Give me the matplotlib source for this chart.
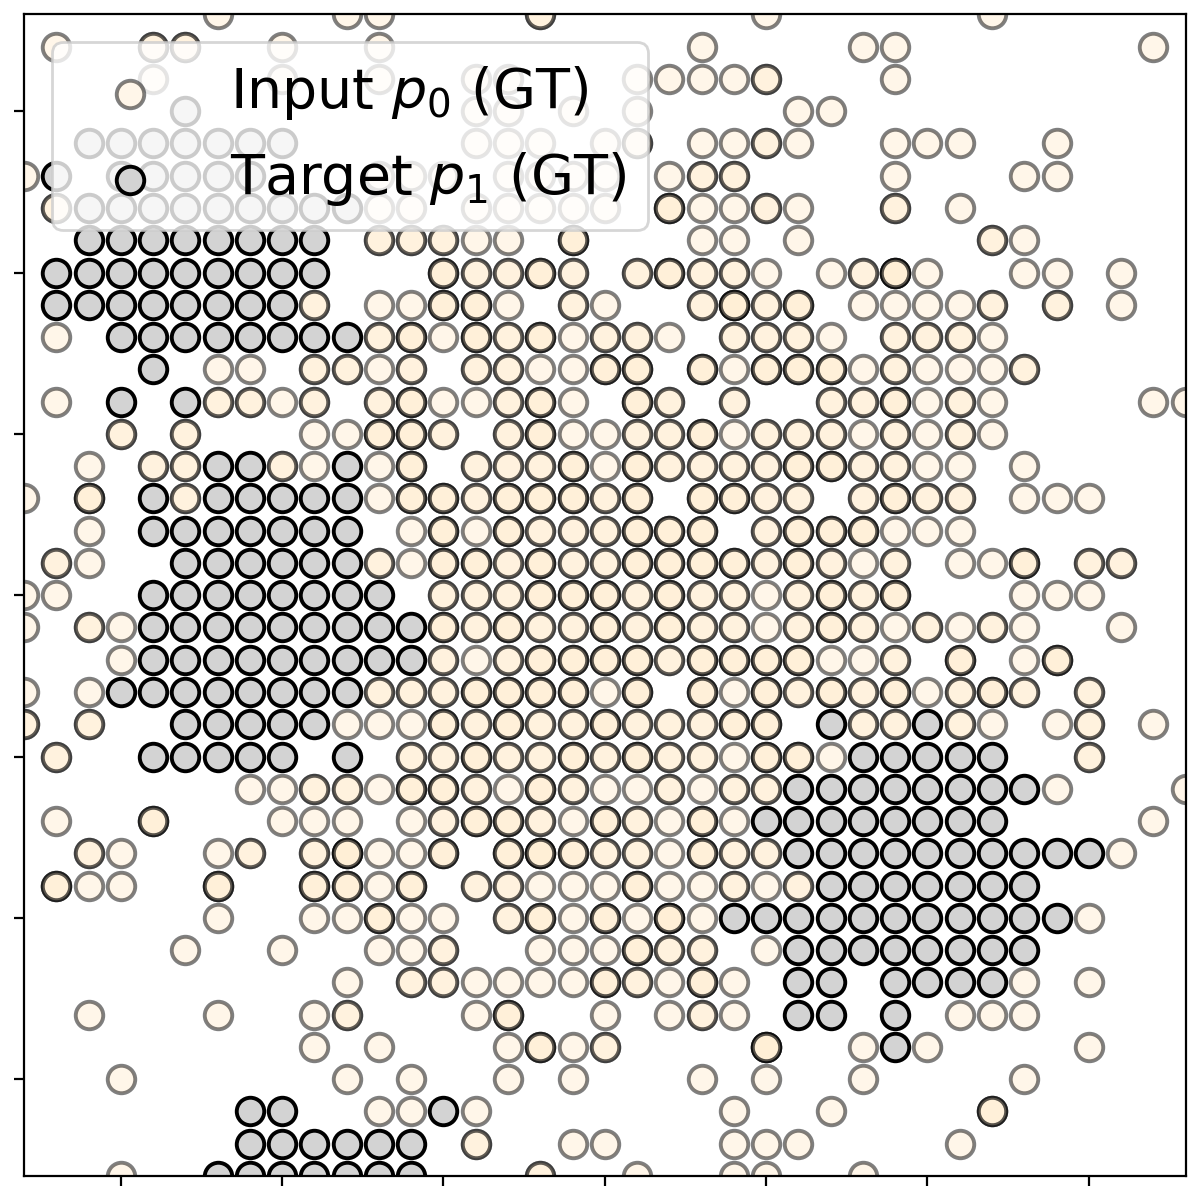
import matplotlib
matplotlib.use("Agg")
import matplotlib.pyplot as plt

GRID_MAX = 36
TICKS = [3, 8, 13, 18, 23, 28, 33]
LABEL_P0 = "Input $p_0$ (GT)"
LABEL_P1 = "Target $p_1$ (GT)"

# one entry per grid row, top row first: {column: how many p0 points sit there}
P0_COUNTS = [
    {6: 1, 10: 1, 11: 1, 16: 2, 23: 1, 30: 1},
    {1: 1, 4: 2, 5: 2, 8: 1, 11: 1, 21: 1, 26: 1, 27: 1, 35: 1},
    {4: 1, 8: 1, 11: 1, 14: 1, 15: 1, 19: 1, 20: 1, 21: 1, 22: 1, 23: 2, 27: 1},
    {14: 1, 15: 1, 17: 1, 19: 1, 24: 1, 25: 1},
    {14: 1, 15: 1, 16: 1, 18: 1, 19: 2, 21: 1, 22: 1, 23: 2, 24: 1, 27: 1, 28: 1, 29: 1, 32: 1},
    {0: 1, 11: 1, 12: 1, 13: 1, 15: 1, 16: 1, 17: 1, 18: 1, 20: 1, 21: 2, 22: 2, 27: 1, 31: 1, 32: 1},
    {1: 2, 11: 1, 12: 1, 14: 1, 15: 1, 16: 1, 17: 1, 18: 1, 20: 3, 21: 1, 22: 1, 23: 2, 24: 1, 27: 2, 29: 1},
    {11: 2, 12: 2, 13: 2, 14: 1, 15: 1, 17: 3, 21: 1, 22: 1, 24: 1, 30: 2, 31: 1},
    {13: 3, 14: 2, 15: 2, 16: 3, 17: 2, 19: 2, 20: 3, 21: 2, 22: 2, 23: 1, 25: 1, 26: 2, 27: 4, 28: 1,
     31: 1, 32: 1, 34: 1},
    {9: 2, 11: 1, 12: 1, 13: 3, 14: 3, 15: 1, 17: 2, 18: 1, 21: 2, 22: 4, 23: 2, 24: 3, 26: 1, 27: 1,
     28: 1, 29: 1, 30: 2, 32: 2, 34: 1},
    {1: 1, 11: 2, 12: 3, 13: 1, 14: 3, 15: 2, 16: 3, 17: 1, 18: 2, 19: 2, 20: 1, 22: 2, 23: 2, 24: 2,
     25: 1, 27: 2, 28: 2, 29: 2, 30: 1},
    {6: 1, 7: 1, 9: 2, 10: 2, 11: 1, 12: 2, 14: 2, 15: 2, 16: 1, 17: 1, 18: 3, 19: 3, 21: 3, 22: 1,
     23: 3, 24: 3, 25: 3, 26: 1, 27: 2, 28: 1, 29: 1, 30: 1, 31: 2},
    {1: 1, 6: 2, 7: 2, 8: 1, 9: 2, 11: 2, 12: 3, 13: 1, 14: 1, 15: 2, 16: 3, 17: 1, 19: 3, 20: 2, 22: 2,
     25: 2, 26: 2, 27: 3, 28: 1, 29: 2, 30: 1, 35: 1, 36: 1},
    {3: 2, 5: 2, 9: 1, 10: 1, 11: 3, 12: 3, 13: 2, 15: 2, 16: 3, 17: 1, 18: 1, 19: 2, 20: 2, 21: 3, 22: 1,
     23: 2, 24: 2, 25: 2, 26: 1, 27: 2, 28: 1, 29: 2, 30: 1},
    {2: 1, 4: 2, 5: 2, 8: 2, 9: 1, 11: 1, 12: 3, 14: 2, 15: 2, 16: 2, 17: 3, 18: 1, 19: 3, 20: 2, 21: 2,
     22: 2, 23: 2, 24: 3, 25: 3, 26: 2, 27: 2, 28: 1, 29: 1, 31: 1},
    {0: 1, 2: 3, 5: 2, 11: 1, 12: 3, 13: 3, 14: 2, 15: 3, 16: 3, 17: 3, 18: 2, 19: 3, 21: 3, 22: 3, 23: 2,
     24: 2, 26: 2, 27: 3, 28: 2, 29: 2, 31: 1, 32: 1, 33: 1},
    {2: 1, 12: 1, 13: 3, 14: 1, 15: 3, 16: 2, 17: 2, 18: 2, 19: 3, 20: 3, 21: 3, 23: 2, 24: 3, 25: 3, 26: 3,
     27: 1, 28: 1, 29: 1},
    {1: 2, 2: 1, 11: 2, 12: 1, 13: 3, 14: 3, 15: 2, 16: 3, 17: 2, 18: 2, 19: 3, 20: 3, 21: 3, 22: 3, 23: 2,
     24: 3, 25: 2, 26: 1, 27: 2, 29: 1, 30: 1, 31: 3, 33: 2, 34: 2},
    {0: 1, 1: 1, 13: 2, 14: 2, 15: 2, 16: 3, 17: 3, 18: 3, 19: 2, 20: 3, 21: 2, 22: 2, 23: 1, 24: 2, 25: 3,
     26: 2, 27: 3, 31: 1, 32: 1, 33: 1},
    {0: 1, 2: 2, 3: 1, 13: 3, 14: 2, 15: 3, 16: 2, 17: 2, 18: 3, 19: 2, 20: 3, 21: 2, 22: 2, 23: 1, 24: 2,
     25: 3, 26: 2, 27: 1, 28: 2, 29: 1, 30: 2, 31: 1, 34: 1},
    {3: 1, 13: 2, 14: 1, 15: 2, 16: 3, 17: 3, 18: 3, 19: 3, 20: 2, 21: 3, 22: 3, 23: 3, 24: 3, 25: 1, 26: 1,
     27: 2, 29: 3, 31: 1, 32: 3},
    {0: 1, 2: 1, 11: 2, 12: 2, 13: 2, 14: 3, 15: 3, 16: 3, 17: 3, 18: 1, 19: 3, 21: 3, 22: 1, 23: 3, 24: 2,
     25: 3, 26: 2, 27: 3, 28: 1, 29: 2, 30: 3, 31: 2, 33: 2},
    {0: 2, 2: 2, 10: 1, 11: 1, 12: 1, 13: 3, 14: 2, 15: 3, 16: 2, 17: 2, 18: 3, 19: 2, 20: 2, 21: 2, 22: 3,
     23: 3, 26: 2, 27: 2, 29: 2, 30: 1, 32: 1, 33: 2, 35: 1},
    {1: 2, 12: 2, 13: 2, 14: 3, 15: 2, 16: 2, 17: 3, 18: 2, 19: 3, 20: 2, 21: 2, 22: 1, 23: 3, 24: 3, 25: 1,
     33: 2},
    {7: 1, 8: 1, 9: 2, 10: 2, 11: 1, 12: 3, 13: 3, 14: 2, 15: 1, 16: 3, 17: 2, 18: 1, 19: 1, 20: 2, 21: 1,
     22: 2, 23: 2, 32: 1, 36: 1},
    {1: 1, 4: 3, 8: 1, 9: 1, 10: 1, 12: 1, 13: 2, 14: 3, 15: 3, 16: 2, 17: 1, 18: 3, 19: 2, 20: 1, 21: 3,
     22: 1, 35: 1},
    {2: 2, 3: 1, 6: 1, 7: 2, 9: 2, 10: 4, 11: 1, 12: 1, 13: 3, 15: 3, 16: 4, 17: 3, 18: 2, 19: 2, 20: 1,
     21: 3, 22: 2, 23: 2, 34: 1},
    {1: 3, 2: 1, 3: 1, 6: 3, 9: 3, 10: 3, 11: 1, 12: 3, 14: 2, 15: 2, 16: 1, 17: 1, 18: 1, 19: 3, 20: 1,
     21: 1, 22: 2, 23: 1, 24: 2},
    {6: 1, 9: 1, 10: 1, 11: 3, 12: 1, 13: 1, 15: 2, 16: 3, 17: 1, 18: 3, 19: 1, 20: 4, 21: 1, 33: 1},
    {5: 1, 8: 1, 11: 1, 12: 1, 13: 2, 16: 1, 17: 1, 18: 1, 19: 3, 20: 2, 21: 2, 23: 1},
    {10: 1, 12: 2, 13: 2, 14: 1, 15: 1, 16: 1, 17: 1, 18: 3, 19: 2, 20: 1, 21: 3, 22: 1, 31: 1, 33: 1},
    {2: 1, 6: 1, 9: 1, 10: 2, 14: 1, 15: 3, 18: 1, 20: 1, 21: 2, 22: 1, 29: 1, 30: 1, 31: 1},
    {9: 1, 11: 1, 15: 1, 16: 3, 17: 1, 18: 2, 23: 4, 26: 1, 28: 1, 33: 1},
    {3: 1, 10: 1, 12: 1, 15: 1, 17: 1, 21: 1, 23: 1, 26: 1, 31: 1},
    {11: 1, 12: 1, 14: 1, 22: 1, 25: 1, 30: 3},
    {14: 2, 17: 1, 18: 1, 22: 1, 23: 1, 24: 1, 29: 1},
    {3: 1, 16: 2, 19: 1, 22: 1, 23: 1, 26: 1},
]

# target cells per grid row, same order
TARGET_COLS = [
    [],
    [],
    [],
    [5],
    [2, 3, 4, 5, 6, 7, 8],
    [1, 3, 4, 5, 6, 7],
    [2, 3, 4, 5, 6, 7, 8, 9, 10],
    [2, 3, 4, 5, 6, 7, 8, 9],
    [1, 2, 3, 4, 5, 6, 7, 8, 9],
    [1, 2, 3, 4, 5, 6, 7, 8],
    [3, 4, 5, 6, 7, 8, 9, 10],
    [4],
    [3, 5],
    [],
    [6, 7, 10],
    [4, 6, 7, 8, 9, 10],
    [4, 5, 6, 7, 8, 9, 10],
    [5, 6, 7, 8, 9, 10],
    [4, 5, 6, 7, 8, 9, 10, 11],
    [4, 5, 6, 7, 8, 9, 10, 11, 12],
    [4, 5, 6, 7, 8, 9, 10, 11, 12],
    [3, 4, 5, 6, 7, 8, 9, 10],
    [5, 6, 7, 8, 9, 25, 28],
    [4, 5, 6, 7, 8, 10, 26, 27, 28, 29, 30],
    [24, 25, 26, 27, 28, 29, 30, 31],
    [23, 24, 25, 26, 27, 28, 29, 30],
    [24, 25, 26, 27, 28, 29, 30, 31, 32, 33],
    [25, 26, 27, 28, 29, 30, 31],
    [22, 23, 24, 25, 26, 27, 28, 29, 30, 31, 32],
    [24, 25, 26, 27, 28, 29, 30, 31],
    [24, 25, 27, 28, 29, 30],
    [24, 25, 27],
    [27],
    [],
    [7, 8, 13],
    [7, 8, 9, 10, 11, 12],
    [6, 7, 8, 9, 10, 11, 12],
]


def p0_points():
    xs, ys = [], []
    for i, row in enumerate(P0_COUNTS):
        for col, n in row.items():
            xs.extend([col] * n)
            ys.extend([GRID_MAX - i] * n)
    return xs, ys


def target_points():
    xs, ys = [], []
    for i, cols in enumerate(TARGET_COLS):
        xs.extend(cols)
        ys.extend([GRID_MAX - i] * len(cols))
    return xs, ys


def main():
    fig = plt.figure(figsize=(6, 6), dpi=200)
    ax = fig.add_axes([0.02, 0.02, 0.968, 0.968])

    x0, y0 = p0_points()
    x1, y1 = target_points()
    ax.scatter(x0, y0, s=98, c="papayawhip", edgecolors="black", linewidths=1.4, alpha=0.5, label=LABEL_P0)
    ax.scatter(x1, y1, s=98, c="lightgray", edgecolors="black", linewidths=1.4, label=LABEL_P1)

    ax.set_xlim(0, GRID_MAX)
    ax.set_ylim(0, GRID_MAX)
    ax.set_xticks(TICKS)
    ax.set_yticks(TICKS)
    ax.set_xticklabels([])
    ax.set_yticklabels([])
    ax.legend(loc="upper left", fontsize=20)

    fig.savefig("out.png", dpi=200)
    plt.close(fig)


if __name__ == "__main__":
    main()
